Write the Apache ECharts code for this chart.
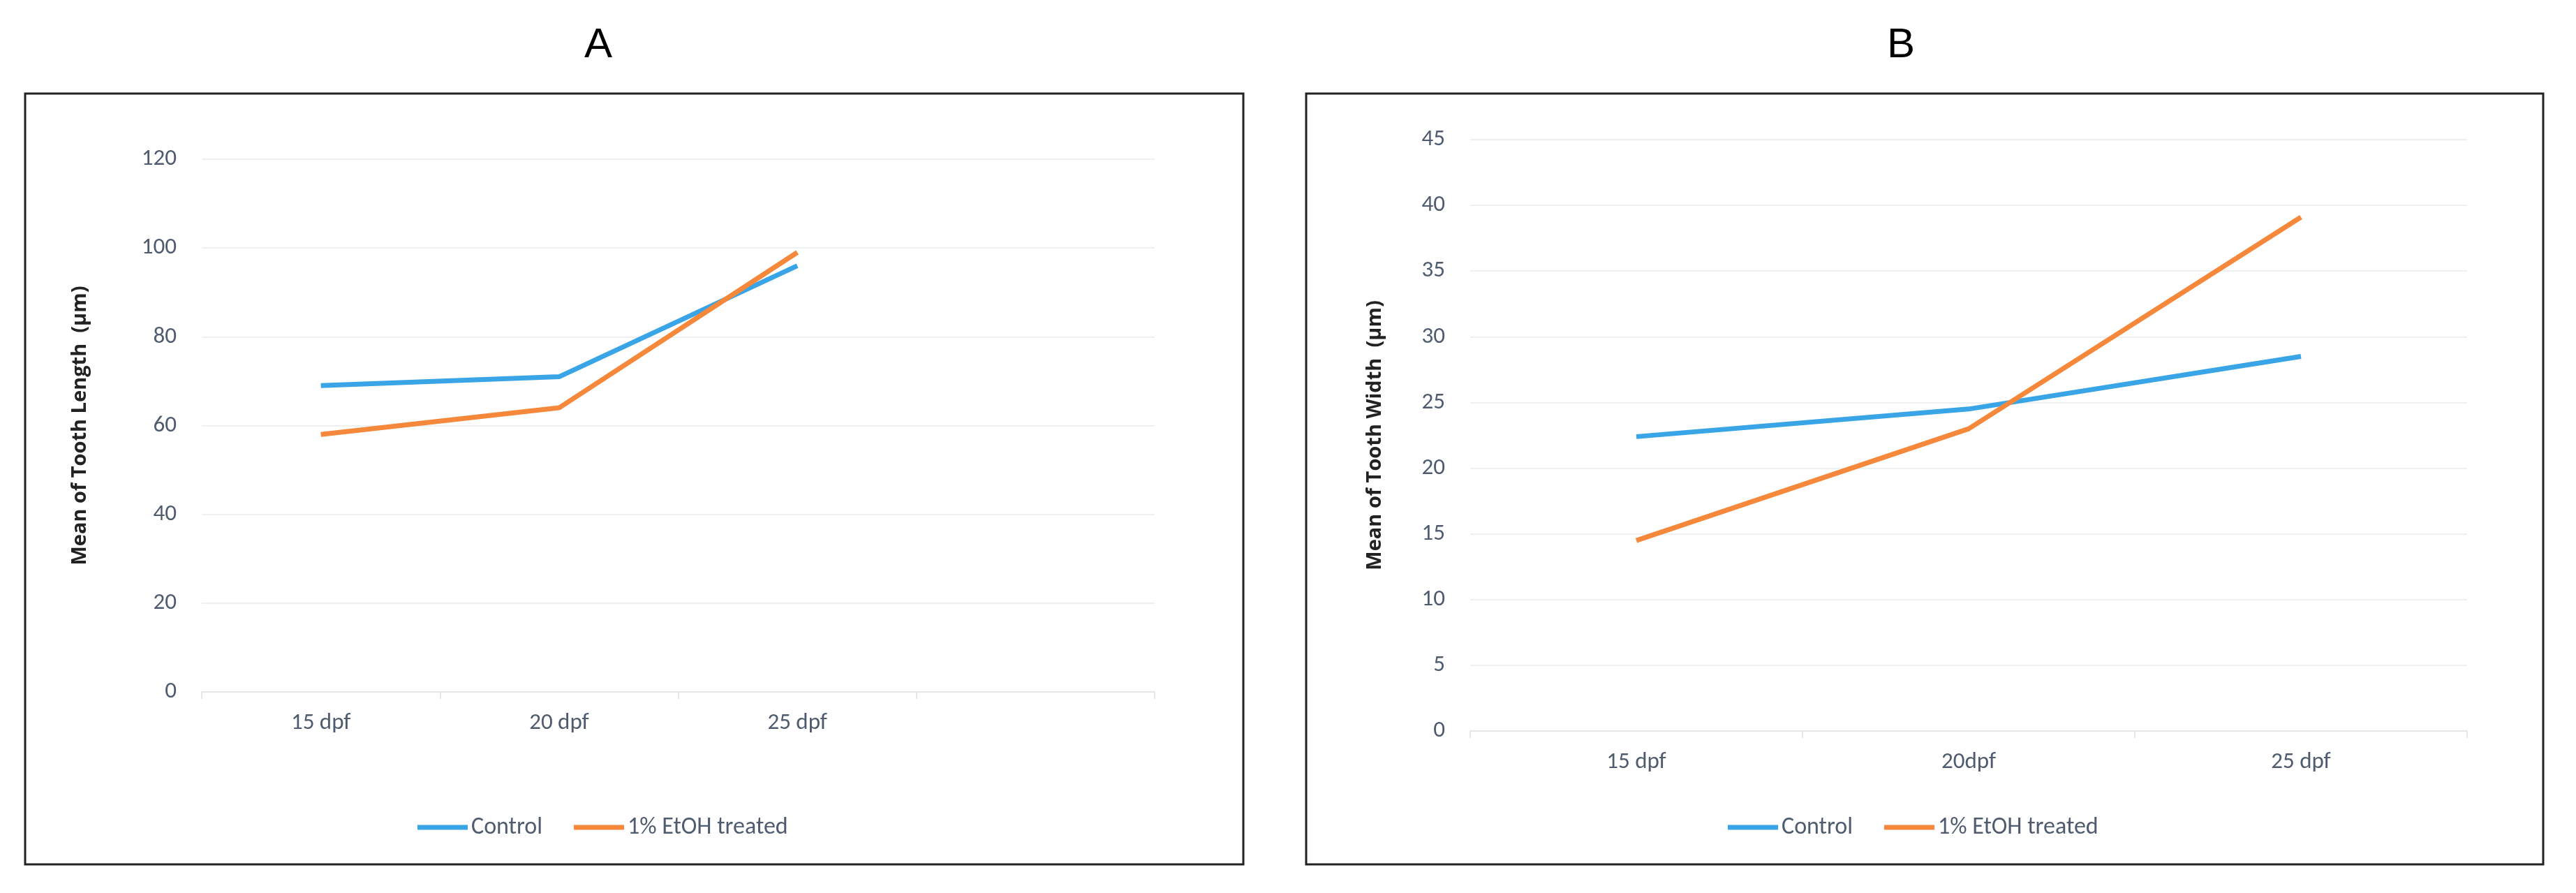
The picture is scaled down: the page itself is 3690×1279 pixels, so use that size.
<!DOCTYPE html>
<html><head><meta charset="utf-8">
<script src="https://cdn.jsdelivr.net/npm/echarts@6/dist/echarts.min.js"></script>
<style>html,body{margin:0;padding:0;background:#fff}#c{width:3690px;height:1279px}</style>
</head><body><div id="c"></div>
<script>
const catsA = ["15 dpf","20 dpf","25 dpf",""];
const controlA = [69, 71, 96];
const etohA = [58, 64, 99];
const catsB = ["15 dpf","20dpf","25 dpf"];
const controlB = [22.4, 24.5, 28.5];
const etohB = [14.5, 23, 39.1];
const seriesNames = ["Control","1% EtOH treated"];
const blue = "#3aa5e6", orange = "#f5883a";
const tickColor = "#4f5b6e";
const font = "Calibri, 'Liberation Sans', Carlito, sans-serif";
const chart = echarts.init(document.getElementById('c'));
function xAx(idx, data){return {type:'category',gridIndex:idx,data:data,boundaryGap:true,
  axisLine:{lineStyle:{color:'#e6e6e6',width:2}},axisTick:{show:true,length:10,lineStyle:{color:'#e6e6e6',width:2}},
  axisLabel:{color:tickColor,fontSize:33,fontFamily:font,margin:28}};}
function yAx(idx,max,interval,name,gap){return {type:'value',gridIndex:idx,min:0,max:max,interval:interval,
  name:name,nameLocation:'middle',nameGap:gap,nameTextStyle:{fontSize:29,fontWeight:'bold',color:'#222',fontFamily:"'Open Sans', sans-serif"},
  axisLine:{show:false},axisTick:{show:false},
  axisLabel:{color:tickColor,fontSize:33,fontFamily:font,margin:36},
  splitLine:{lineStyle:{color:'#eef1f2',width:2}}};}
function ln(name,x,y,data,color){return {name:name,type:'line',xAxisIndex:x,yAxisIndex:y,data:data,
  symbol:'none',lineStyle:{color:color,width:7},itemStyle:{color:color}};}
chart.setOption({
  animation:false,
  title:[{text:'A',left:852,top:30,textAlign:'center',textStyle:{fontSize:60,fontWeight:'normal',color:'#000',fontFamily:"'Liberation Sans', sans-serif"}},
         {text:'B',left:2718,top:30,textAlign:'center',textStyle:{fontSize:60,fontWeight:'normal',color:'#000',fontFamily:"'Liberation Sans', sans-serif"}}],
  graphic:[{type:'rect',shape:{x:36,y:134,width:1745,height:1104},style:{fill:'none',stroke:'#222',lineWidth:3}},
           {type:'rect',shape:{x:1871,y:134,width:1772,height:1104},style:{fill:'none',stroke:'#222',lineWidth:3}}],
  legend:[{data:seriesNames,left:593,top:1163,itemWidth:72,itemHeight:7,itemGap:45,icon:'rect',
           textStyle:{color:tickColor,fontSize:34,fontFamily:font}},
          {data:seriesNames,left:2470,top:1163,itemWidth:72,itemHeight:7,itemGap:45,icon:'rect',
           textStyle:{color:tickColor,fontSize:34,fontFamily:font}}],
  grid:[{left:289,top:228,width:1365,height:763},{left:2106,top:200,width:1428,height:847}],
  xAxis:[xAx(0,catsA),xAx(1,catsB)],
  yAxis:[yAx(0,120,20,'Mean of Tooth Length  (µm)',160),yAx(1,45,5,'Mean of Tooth Width  (µm)',122)],
  series:[ln(seriesNames[0],0,0,controlA,blue),ln(seriesNames[1],0,0,etohA,orange),
          ln(seriesNames[0],1,1,controlB,blue),ln(seriesNames[1],1,1,etohB,orange)]
});
</script></body></html>
